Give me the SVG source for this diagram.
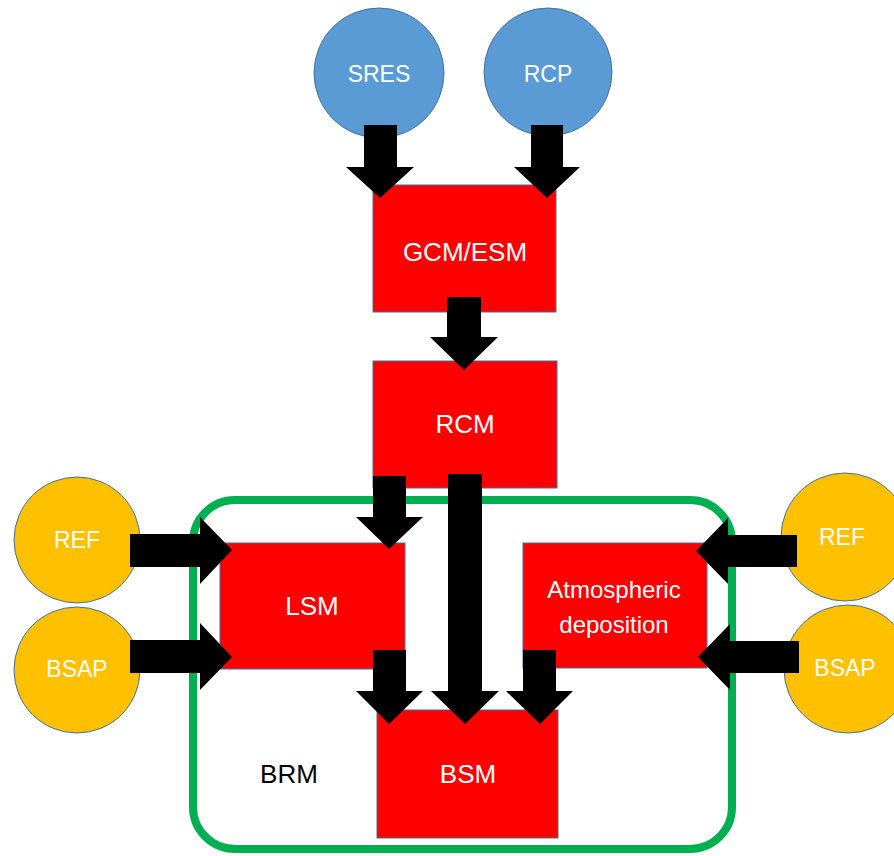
<svg xmlns="http://www.w3.org/2000/svg" width="894" height="856" viewBox="0 0 894 856">
  <style>
    .blue { fill: #5B9BD5; stroke: #41719C; stroke-width: 1; }
    .yellow { fill: #FFC000; stroke: #41719C; stroke-width: 1; }
    .box { fill: #FF0000; stroke: #41719C; stroke-width: 1; }
    .lbl { font-family: "Liberation Sans", Arial, sans-serif; fill: #FFFFFF; text-anchor: middle; }
    .big { font-size: 26px; }
    .small { font-size: 23px; }
    .dark { fill: #000000; }
    .arrow { fill: #000000; stroke: none; }
  </style>
  <rect width="894" height="856" fill="#FFFFFF"/>

  <g id="brm">
    <rect x="193" y="500" width="539" height="349" rx="42" ry="42" fill="none" stroke="#00B050" stroke-width="8"/>
    <text class="lbl big dark" x="289" y="783">BRM</text>
  </g>

  <g id="sres">
    <circle class="blue" cx="379" cy="73" r="65"/>
    <text class="lbl small" x="379" y="82">SRES</text>
  </g>
  <g id="rcp">
    <circle class="blue" cx="548" cy="72" r="64"/>
    <text class="lbl small" x="548" y="82">RCP</text>
  </g>
  <g id="gcm">
    <rect class="box" x="373" y="185" width="183" height="127"/>
    <text class="lbl big" x="465" y="261">GCM/ESM</text>
  </g>
  <g id="rcm">
    <rect class="box" x="373" y="361" width="184" height="127"/>
    <text class="lbl big" x="465" y="433">RCM</text>
  </g>
  <g id="lsm">
    <rect class="box" x="220" y="543" width="185" height="126"/>
    <text class="lbl big" x="312" y="615">LSM</text>
  </g>
  <g id="atm">
    <rect class="box" x="523" y="543" width="184" height="125"/>
    <text class="lbl" style="font-size:24px" x="614" y="598">Atmospheric</text>
    <text class="lbl" style="font-size:24px" x="614" y="633">deposition</text>
  </g>
  <g id="bsm">
    <rect class="box" x="377" y="710" width="181" height="128"/>
    <text class="lbl big" x="468" y="783">BSM</text>
  </g>
  <g id="ref-left">
    <circle class="yellow" cx="77" cy="540" r="63"/>
    <text class="lbl small" x="77" y="548">REF</text>
  </g>
  <g id="bsap-left">
    <circle class="yellow" cx="77" cy="670" r="63"/>
    <text class="lbl small" x="77" y="677">BSAP</text>
  </g>
  <g id="ref-right">
    <circle class="yellow" cx="845" cy="537" r="64"/>
    <text class="lbl small" x="842" y="545">REF</text>
  </g>
  <g id="bsap-right">
    <circle class="yellow" cx="848" cy="669" r="64"/>
    <text class="lbl small" x="845" y="676">BSAP</text>
  </g>

  <g id="connectors">
    <polygon class="arrow" points="364,125 397,125 397,167 414,167 380,198 346,167 364,167"/>
    <polygon class="arrow" points="531,125 563,125 563,167 580,167 547,198 514,167 531,167"/>
    <polygon class="arrow" points="447,297 481,297 481,337 498,337 464,370 430,337 447,337"/>
    <polygon class="arrow" points="373,476 406,476 406,517 423,517 389,549 356,517 373,517"/>
    <polygon class="arrow" points="373,650 406,650 406,691 423,691 389,724 356,691 373,691"/>
    <polygon class="arrow" points="448,474 482,474 482,691 499,691 465,724 431,691 448,691"/>
    <polygon class="arrow" points="523,650 556,650 556,691 573,691 540,724 506,691 523,691"/>
    <polygon class="arrow" points="130,534 200,534 200,517 232,550 200,584 200,567 130,567"/>
    <polygon class="arrow" points="130,640 200,640 200,623 232,657 200,690 200,673 130,673"/>
    <polygon class="arrow" points="797,535 728,535 728,518 696,551 728,584 728,567 797,567"/>
    <polygon class="arrow" points="799,641 730,641 730,624 698,657 730,690 730,673 799,673"/>
  </g>
</svg>
